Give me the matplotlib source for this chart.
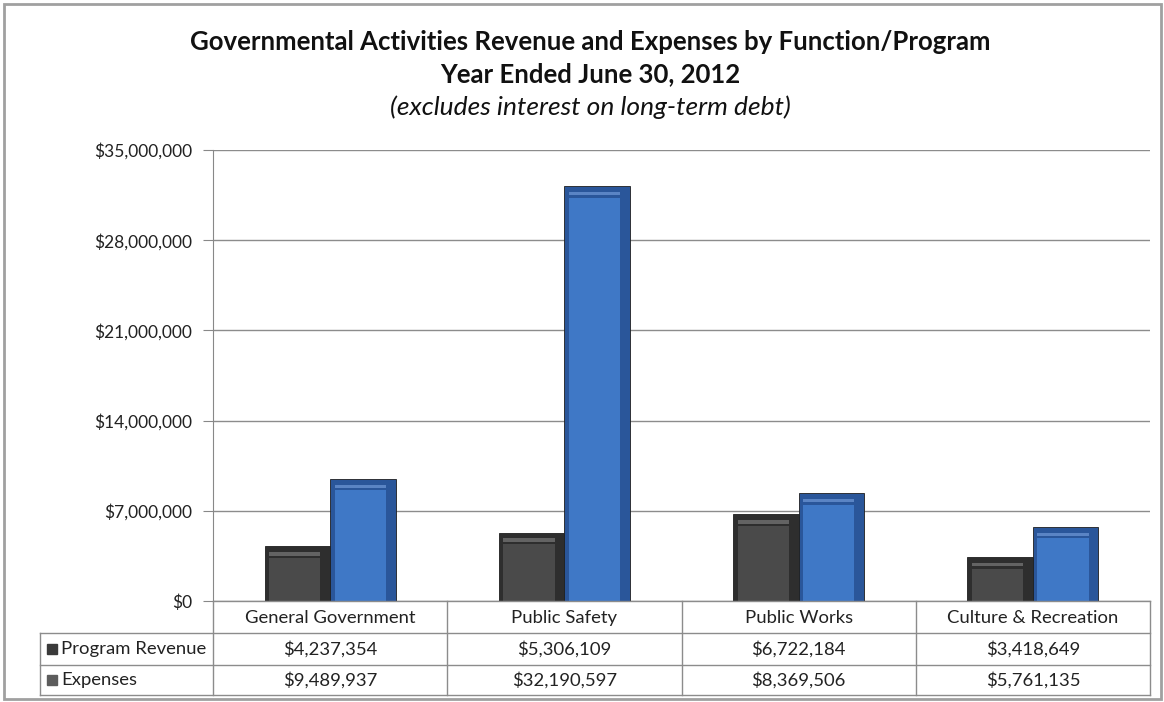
import matplotlib.pyplot as plt
from matplotlib.patches import Rectangle
from matplotlib.lines import Line2D
import numpy as np

# данные
categories = ['General Government', 'Public Safety', 'Public Works', 'Culture & Recreation']
series_names = ['Program Revenue', 'Expenses']
program_revenue = [4237354, 5306109, 6722184, 3418649]
expenses = [9489937, 32190597, 8369506, 5761135]
y_ticks = [0, 7000000, 14000000, 21000000, 28000000, 35000000]

W, H = 1164, 702


def fx(x):
    return x / W


def fy(y):
    return 1 - y / H


def money(v):
    return '${:,.0f}'.format(v)


plt.rcParams['font.family'] = ['Lato', 'DejaVu Sans']

fig = plt.figure(figsize=(W / 100, H / 100), dpi=100)
fig.patch.set_facecolor('white')

# рамка вокруг всего графика
fig.patches.append(Rectangle((fx(4), fy(699)), fx(1157), fy(4) - fy(699),
                             transform=fig.transFigure, fill=False, edgecolor='#a0a0a0', lw=2))

# заголовок
fig.text(fx(590), fy(42), 'Governmental Activities Revenue and Expenses by Function/Program',
         ha='center', va='center', fontsize=18.5, fontweight='bold', color='#111111')
fig.text(fx(590), fy(74), 'Year Ended June 30, 2012',
         ha='center', va='center', fontsize=18.5, fontweight='bold', color='#111111')
fig.text(fx(590), fy(107), '(excludes interest on long-term debt)',
         ha='center', va='center', fontsize=19, style='italic', color='#111111')

left, right, top, bottom = 213, 1150, 150, 601
ax = fig.add_axes([fx(left), fy(bottom), fx(right - left), fy(top) - fy(bottom)])
n = len(categories)
ax.set_xlim(0, n)
ax.set_ylim(0, y_ticks[-1])
ax.set_yticks(y_ticks)
ax.set_yticklabels([money(v) for v in y_ticks], fontsize=12.5, color='#222222')
ax.set_xticks([])
ax.tick_params(axis='y', length=7, color='#888888', pad=8)
ax.grid(axis='y', color='#8c8c8c', lw=1)
ax.set_axisbelow(True)
for s in ['top', 'right', 'bottom']:
    ax.spines[s].set_visible(False)
ax.spines['left'].set_color('#888888')

x = np.arange(n) + 0.5
w = 0.28
styles = [
    ('#2e2e2e', '#4a4a4a', '#7a7a7a'),
    ('#2a569a', '#3f78c6', '#6f98d6'),
]
for k, vals in enumerate([program_revenue, expenses]):
    xs = x + (k - 0.5) * w
    outer, face, hi = styles[k]
    ax.bar(xs, vals, width=w, color=outer, edgecolor='#1e1e1e', lw=0.6, zorder=3)
    inset = 0.9e6
    inner = [max(v - inset, 0) for v in vals]
    ax.bar(xs - w * 0.04, inner, width=w * 0.78, color=face, lw=0, zorder=4)
    ax.bar(xs - w * 0.04, [inset * 0.3] * n, bottom=[v - inset * 0.8 for v in vals],
           width=w * 0.78, color=hi, lw=0, zorder=5, alpha=0.7)

# таблица данных под осью
line_kw = dict(color='#8c8c8c', lw=1, transform=fig.transFigure)
col_edges = [left + (right - left) * i / n for i in range(n + 1)]
row_edges = [601, 633, 665, 695]
fig.lines.append(Line2D([fx(left), fx(right)], [fy(601), fy(601)], **line_kw))
for r in row_edges[1:]:
    fig.lines.append(Line2D([fx(40), fx(right)], [fy(r), fy(r)], **line_kw))
for c in col_edges:
    fig.lines.append(Line2D([fx(c), fx(c)], [fy(601), fy(695)], **line_kw))
fig.lines.append(Line2D([fx(40), fx(40)], [fy(633), fy(695)], **line_kw))

for i, cat in enumerate(categories):
    cx = (col_edges[i] + col_edges[i + 1]) / 2
    fig.text(fx(cx), fy(618), cat, ha='center', va='center', fontsize=13.3, color='#222222')
    fig.text(fx(cx), fy(649), money(program_revenue[i]), ha='center', va='center',
             fontsize=13.3, color='#222222')
    fig.text(fx(cx), fy(680), money(expenses[i]), ha='center', va='center',
             fontsize=13.3, color='#222222')

key_colors = ['#3a3a3a', '#5c5c5c']
for j, name in enumerate(series_names):
    yc = (row_edges[j + 1] + row_edges[j + 2]) / 2
    fig.patches.append(Rectangle((fx(47), fy(yc + 5)), fx(10), fy(yc - 5) - fy(yc + 5),
                                 transform=fig.transFigure, color=key_colors[j]))
    fig.text(fx(61), fy(yc), name, ha='left', va='center', fontsize=13.3, color='#222222')

fig.savefig('out.png', dpi=100)
